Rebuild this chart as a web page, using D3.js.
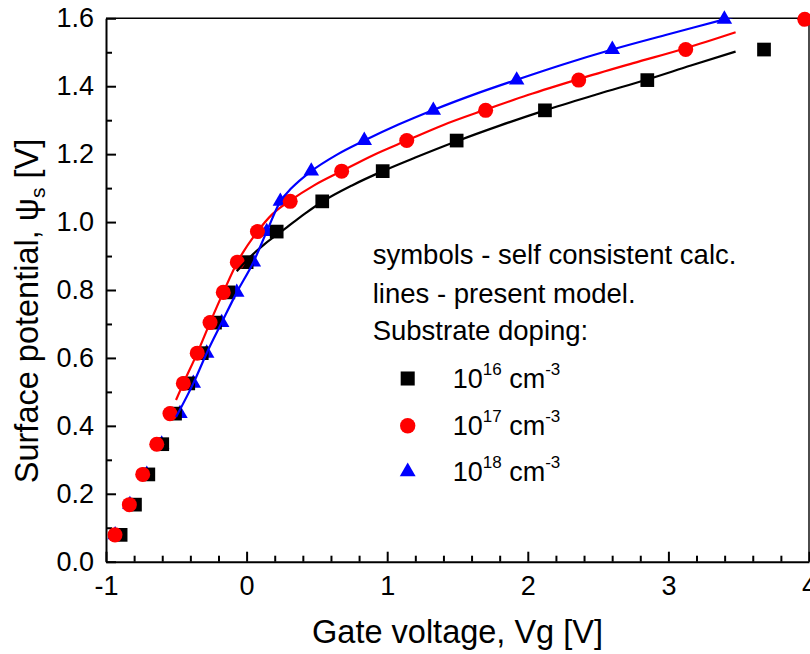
<!DOCTYPE html>
<html><head><meta charset="utf-8">
<script src="https://cdn.jsdelivr.net/npm/d3@7"></script>
<style>
body{margin:0;background:#fff}
svg{display:block;background:#fff}
text{font-family:"Liberation Sans",Arial,Helvetica,sans-serif;fill:#000}
</style>
</head><body>
<svg id="c" width="810" height="654"></svg>
<script>
// ---------- data ----------
const psiSym = [0.079, 0.168, 0.257, 0.346, 0.436, 0.525, 0.614, 0.704, 0.793, 0.882,
                0.972, 1.061, 1.150, 1.240, 1.329, 1.418, 1.508, 1.597];
// self consistent calculation (symbols), gate voltage for each psiSym level
const vgBlack = [-0.896, -0.794, -0.699, -0.600, -0.509, -0.415, -0.319, -0.225, -0.130, 0.000,
                 0.214, 0.538, 0.968, 1.494, 2.122, 2.850, 3.680];
const vgRed   = [-0.936, -0.834, -0.739, -0.639, -0.545, -0.450, -0.351, -0.260, -0.166, -0.066,
                 0.077, 0.310, 0.676, 1.139, 1.700, 2.362, 3.123, 3.970];
const vgBlue  = [-0.935, -0.830, -0.710, -0.604, -0.474, -0.379, -0.284, -0.177, -0.070, 0.048,
                 0.143, 0.240, 0.460, 0.837, 1.328, 1.921, 2.601, 3.398];
// present model (lines)
const lineBlackVg  = [-0.070, 0.000, 0.130, 0.260, 0.415, 0.538, 0.750, 0.968, 1.200, 1.494, 1.800, 2.122, 2.500, 2.850, 3.160, 3.478];
const lineBlackPsi = [0.855, 0.887, 0.936, 0.976, 1.025, 1.060, 1.108, 1.150, 1.190, 1.238, 1.284, 1.329, 1.377, 1.420, 1.461, 1.502];
const lineRedVg  = [-0.502, -0.450, -0.351, -0.260, -0.166, -0.066, 0.077, 0.180, 0.310, 0.480, 0.676, 0.900, 1.139, 1.400, 1.700, 2.000, 2.362, 2.750, 3.123, 3.478];
const lineRedPsi = [0.476, 0.525, 0.614, 0.704, 0.793, 0.882, 0.972, 1.022, 1.063, 1.108, 1.150, 1.197, 1.240, 1.286, 1.331, 1.374, 1.421, 1.468, 1.512, 1.559];
const lineBlueVg  = [-0.502, -0.379, -0.284, -0.177, -0.070, 0.048, 0.143, 0.240, 0.320, 0.460, 0.640, 0.837, 1.080, 1.328, 1.620, 1.921, 2.250, 2.601, 3.000, 3.398, 3.478];
const lineBluePsi = [0.426, 0.525, 0.614, 0.704, 0.793, 0.882, 0.972, 1.061, 1.100, 1.150, 1.198, 1.240, 1.287, 1.330, 1.376, 1.419, 1.464, 1.508, 1.553, 1.597, 1.606];

const xTicks = [-1, 0, 1, 2, 3, 4];
const yTicks = [0.0, 0.2, 0.4, 0.6, 0.8, 1.0, 1.2, 1.4, 1.6];
const legendText = ["symbols - self consistent calc.", "lines - present model.", "Substrate doping:"];
const legendExp = ["16", "17", "18"];

// ---------- chart ----------
const svg = d3.select("#c");
const L = 106, R = 809, T = 18.3, B = 561.7;
const x = d3.scaleLinear().domain([-1, 4]).range([L, R]);
const y = d3.scaleLinear().domain([0, 1.6]).range([B, T]);

const xMinor = d3.range(-1, 4.0001, 0.2).map(v => +v.toFixed(2)).filter(v => Math.abs(v - Math.round(v)) > 1e-6);
const yMinor = d3.range(0.1, 1.6, 0.2).map(v => +v.toFixed(2));

svg.append("defs").append("clipPath").attr("id", "clip")
  .append("rect").attr("x", L).attr("y", T).attr("width", R - L).attr("height", B - T);

// frame (top, right)
svg.append("line").attr("x1", L).attr("x2", R).attr("y1", T).attr("y2", T).attr("stroke", "#000").attr("stroke-width", 1.4);
svg.append("line").attr("x1", R).attr("x2", R).attr("y1", T).attr("y2", B).attr("stroke", "#000").attr("stroke-width", 1.4);

function styleAxis(g, fs) {
  g.attr("font-family", null).attr("font-size", null);
  g.selectAll("path.domain").attr("stroke", "#000").attr("stroke-width", 2);
  g.selectAll(".tick line").attr("stroke", "#000").attr("stroke-width", 2);
  g.selectAll(".tick text").style("font-size", fs + "px").attr("fill", "#000");
}

// x axis
const gxMinor = svg.append("g").attr("transform", `translate(0,${B})`)
  .call(d3.axisBottom(x).tickValues(xMinor).tickSizeInner(-6).tickSizeOuter(0).tickFormat(""));
gxMinor.select("path.domain").remove();
styleAxis(gxMinor, 27);
const gx = svg.append("g").attr("transform", `translate(0,${B})`)
  .call(d3.axisBottom(x).tickValues(xTicks).tickSizeInner(-10).tickSizeOuter(0).tickPadding(14).tickFormat(d => String(d)));
styleAxis(gx, 27);

// y axis
const gyMinor = svg.append("g").attr("transform", `translate(${L},0)`)
  .call(d3.axisLeft(y).tickValues(yMinor).tickSizeInner(-6).tickSizeOuter(0).tickFormat(""));
gyMinor.select("path.domain").remove();
styleAxis(gyMinor, 27);
const gy = svg.append("g").attr("transform", `translate(${L},0)`)
  .call(d3.axisLeft(y).tickValues(yTicks).tickSizeInner(-10).tickSizeOuter(0).tickPadding(12).tickFormat(d3.format(".1f")));
styleAxis(gy, 27);

// axis titles
svg.append("text").attr("x", (L + R) / 2).attr("y", 643.3).attr("text-anchor", "middle")
  .style("font-size", "32.5px").text("Gate voltage, Vg [V]");
const yt = svg.append("text").attr("transform", "translate(37.5,311) rotate(-90)").attr("text-anchor", "middle")
  .style("font-size", "32.5px");
yt.append("tspan").text("Surface potential, ψ");
yt.append("tspan").attr("dy", 7).style("font-size", "21px").text("s");
yt.append("tspan").attr("dy", -7).text(" [V]");

// series
const series = [
  {name: "1e16", color: "#000000", type: d3.symbolSquare, size: 188, vg: vgBlack, lvg: lineBlackVg, lpsi: lineBlackPsi},
  {name: "1e17", color: "#ff0000", type: d3.symbolCircle, size: 177, vg: vgRed, lvg: lineRedVg, lpsi: lineRedPsi},
  {name: "1e18", color: "#0000ff", type: d3.symbolTriangle, size: 104, vg: vgBlue, lvg: lineBlueVg, lpsi: lineBluePsi}
];

// symbols: blue, black, red
[series[2], series[0], series[1]].forEach(s => {
  svg.append("g").selectAll("path").data(s.vg.map((v, i) => [v, psiSym[i]])).join("path")
    .attr("transform", d => `translate(${x(d[0])},${y(d[1])})`)
    .attr("d", d3.symbol().type(s.type).size(s.size))
    .attr("fill", s.color);
});

// lines: black, red, blue
const lineGen = d3.line().x(d => x(d[0])).y(d => y(d[1])).curve(d3.curveMonotoneX);
const gl = svg.append("g").attr("clip-path", "url(#clip)");
series.forEach(s => {
  gl.append("path").datum(s.lvg.map((v, i) => [v, s.lpsi[i]]))
    .attr("d", lineGen).attr("fill", "none").attr("stroke", s.color).attr("stroke-width", 2.2)
    .attr("stroke-linejoin", "round");
});

// legend
const legY = [264.3, 302.7, 340];
legendText.forEach((t, i) => {
  svg.append("text").attr("x", 372.7).attr("y", legY[i]).style("font-size", "27.5px").text(t);
});
const entY = [378.5, 425.7, 471.7];
series.forEach((s, i) => {
  svg.append("path").attr("transform", `translate(407.7,${entY[i]})`)
    .attr("d", d3.symbol().type(s.type).size(s.size * 1.05)).attr("fill", s.color);
  const t = svg.append("text").attr("x", 452.7).attr("y", entY[i] + 9).style("font-size", "27px");
  t.append("tspan").text("10");
  t.append("tspan").attr("dy", -12.5).style("font-size", "17px").text(legendExp[i]);
  t.append("tspan").attr("dy", 12.5).text(" cm");
  t.append("tspan").attr("dy", -12.5).style("font-size", "17px").text("-3");
});
</script>
</body></html>
